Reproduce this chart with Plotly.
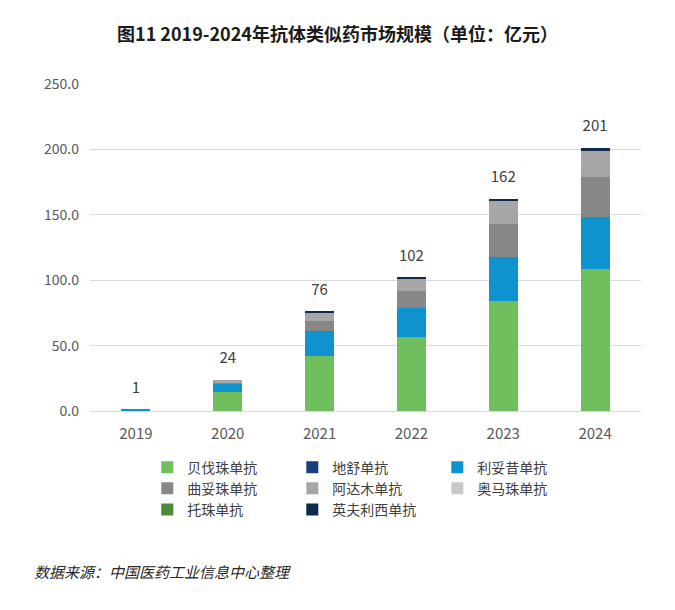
import plotly.graph_objects as go

years = ['2019', '2020', '2021', '2022', '2023', '2024']
totals = [1, 24, 76, 102, 162, 201]

bevacizumab = [0, 14.2, 42.0, 56.5, 84.0, 108.7]
denosumab = [0, 0, 0, 0, 0, 0]
rituximab = [0.8, 6.8, 19.3, 22.4, 33.8, 39.6]
trastuzumab = [0, 0.3, 7.7, 12.7, 24.9, 30.6]
adalimumab = [0, 2.6, 6.6, 9.2, 17.9, 19.6]
omalizumab = [0, 0, 0, 0, 0, 0]
tocilizumab = [0, 0, 0, 0, 0, 0]
infliximab = [0, 0, 1.2, 1.6, 1.2, 2.3]

series = [
    ('贝伐珠单抗', bevacizumab, '#70BF5E'),
    ('地舒单抗', denosumab, '#17407A'),
    ('利妥昔单抗', rituximab, '#0F93CF'),
    ('曲妥珠单抗', trastuzumab, '#878787'),
    ('阿达木单抗', adalimumab, '#A6A6A6'),
    ('奥马珠单抗', omalizumab, '#C9C9C9'),
    ('托珠单抗', tocilizumab, '#4B8A3A'),
    ('英夫利西单抗', infliximab, '#0E2A4D'),
]

FONT = 'Noto Sans CJK SC'

fig = go.Figure()
for name, vals, color in series:
    fig.add_trace(go.Bar(x=years, y=vals, name=name, marker_color=color,
                         marker_line_width=0))

# total labels above each stack
fig.add_trace(go.Scatter(x=years, y=totals, mode='markers+text',
                         text=[str(t) for t in totals], textposition='top center',
                         marker=dict(size=19, opacity=0), showlegend=False,
                         hoverinfo='skip', cliponaxis=False,
                         textfont=dict(family=FONT, size=15, color='#404040')))

fig.add_annotation(text='数据来源：中国医药工业信息中心整理', xref='paper', yref='paper',
                   x=-0.1055, y=-0.49, xanchor='left', yanchor='middle', showarrow=False,
                   font=dict(family=FONT, size=15, color='#262626', style='italic'))

fig.update_layout(
    width=675, height=610,
    barmode='stack', bargap=0.684,
    margin=dict(l=90, r=34, t=84, b=199),
    paper_bgcolor='white', plot_bgcolor='white',
    font=dict(family=FONT, color='#595959'),
    title=dict(text='<b>图11 2019-2024年抗体类似药市场规模（单位：亿元）</b>',
               x=0.5, xanchor='center', y=1 - 35 / 610, yanchor='middle',
               font=dict(family=FONT, size=18, color='#1a1a1a')),
    legend=dict(orientation='h', x=0.104, y=-0.124, xanchor='left', yanchor='top',
                entrywidth=100, entrywidthmode='pixels', itemwidth=30,
                traceorder='normal',
                font=dict(family=FONT, size=14, color='#404040')),
    showlegend=True,
    xaxis=dict(type='category', automargin=False, showgrid=False, showline=True,
               linecolor='#D9D9D9', linewidth=1, ticks='', ticklabelstandoff=9,
               tickfont=dict(family=FONT, size=15, color='#595959')),
    yaxis=dict(range=[0, 250], dtick=50, tickformat='.1f', showgrid=True,
               automargin=False, gridcolor='#D9D9D9', gridwidth=1,
               zeroline=False, showline=False, ticklabelstandoff=10,
               tickfont=dict(family=FONT, size=14, color='#595959')),
)

fig.write_html('out.html', config={'displayModeBar': False},
               post_script="document.body.style.margin='0';")
